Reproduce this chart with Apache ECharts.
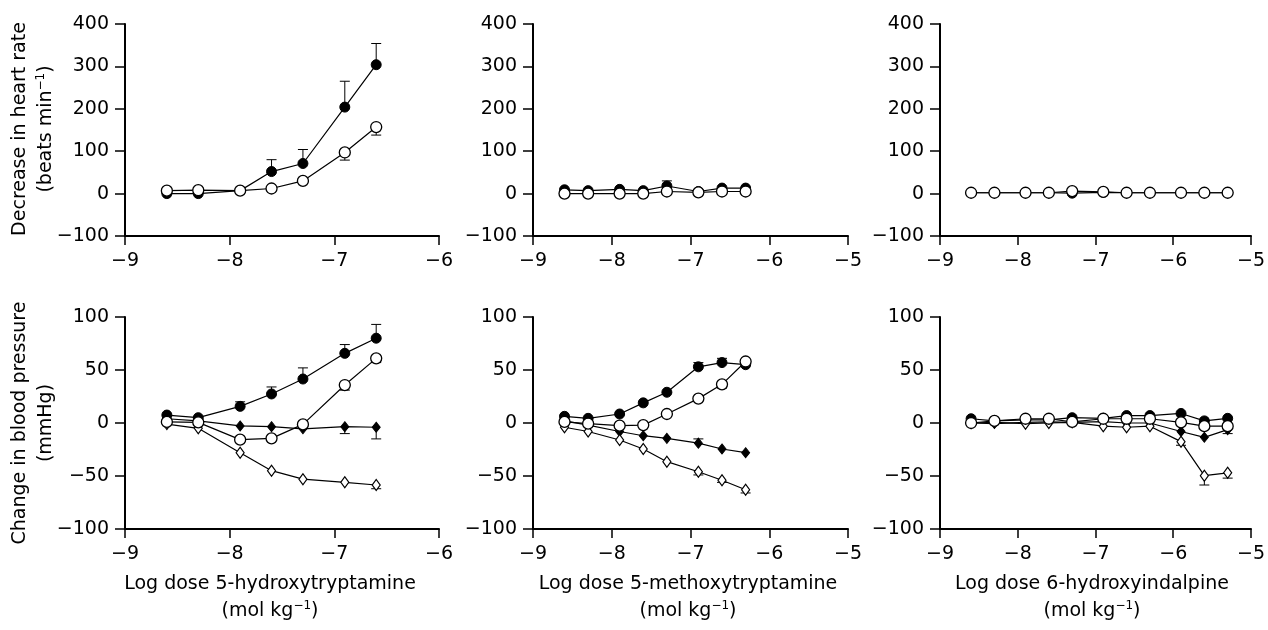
<!DOCTYPE html>
<html>
<head>
<meta charset="utf-8">
<script src="https://cdn.jsdelivr.net/npm/echarts@6/dist/echarts.min.js"></script>
<style>html,body{margin:0;padding:0;background:#fff}#c{width:1268px;height:630px}</style>
</head>
<body>
<div id="c"></div>
<script>
// Doses (log mol/kg)
const doses5HT = [-8.6, -8.3, -7.9, -7.6, -7.3, -6.9, -6.6];
const doses5MeOT = [-8.6, -8.3, -7.9, -7.6, -7.3, -6.9, -6.6, -6.3];
const doses6HI = [-8.6, -8.3, -7.9, -7.6, -7.3, -6.9, -6.6, -6.3, -5.9, -5.6, -5.3];

// Heart rate decrease (beats/min)
const hr5HT_filled = [0, 0, 7, 52, 71, 204, 304];
const hr5HT_filled_err = [null, null, null, 80, 104, 265, 354];
const hr5HT_open = [7, 8, 7, 12, 30, 97, 157];
const hr5HT_open_err = [null, null, null, null, null, 79, 138];

const hrMeOT_filled = [9, 7, 10, 7, 18, 5, 13, 13];
const hrMeOT_filled_err = [null, null, null, null, 30, null, null, null];
const hrMeOT_open = [0, 0, 0, 0, 5, 3, 5, 5];

const hr6HI_filled = [2, 2, 2, 2, 1, 3, 2, 2, 2, 2, 2];
const hr6HI_open = [2, 2, 2, 2, 6, 4, 2, 2, 2, 2, 2];

// Blood pressure change (mmHg)
const bp5HT_fc = [7.5, 5, 15.7, 27.4, 41.5, 65.7, 80];
const bp5HT_fc_err = [null, null, 20, 34, 52, 74, 93];
const bp5HT_oc = [1, 0.6, -15.7, -14.5, -1.3, 35.8, 61];
const bp5HT_oc_err = [null, null, null, null, null, 31, 57];
const bp5HT_fd = [4, 2, -2.8, -3.5, -5.5, -3.5, -4];
const bp5HT_fd_err = [null, null, null, null, null, -10, -15];
const bp5HT_od = [-1, -5, -28, -45, -53, -56, -58.5];
const bp5HT_od_err = [null, null, null, null, null, null, -62];

const bpMeOT_fc = [6.3, 4.4, 8.5, 19, 29, 53, 57, 55];
const bpMeOT_fc_err = [null, null, null, null, null, 57, 61, null];
const bpMeOT_oc = [1, -0.6, -2.5, -2, 8.5, 23, 36.5, 58];
const bpMeOT_oc_err = [null, null, null, null, null, null, 33, null];
const bpMeOT_fd = [2, -2, -8, -12, -14.5, -19, -24.5, -28];
const bpMeOT_fd_err = [null, null, null, null, null, -15, null, null];
const bpMeOT_od = [-4, -8, -16, -24.5, -36.5, -46, -54, -63];
const bpMeOT_od_err = [null, null, null, null, null, -49, -56, -66];

const bp6HI_fc = [4, 2, 3, 3, 5, 4.4, 7, 7, 9, 2, 4.4];
const bp6HI_oc = [0, 2, 4, 4, 1, 4, 4, 4, 0.6, -3, -3];
const bp6HI_oc_err = [null, null, null, null, null, null, null, null, null, null, -10];
const bp6HI_fd = [0, -0.5, 0.6, 1, 0.6, 1.3, 0, 0, -8, -13.5, -6.3];
const bp6HI_od = [0, 0.6, -0.6, 0, 0.6, -3, -4, -3, -17.6, -49.7, -47];
const bp6HI_od_err = [null, null, null, null, null, null, null, null, -21, -58.5, -52];

// Axis ticks
const hrTicks = {min: -100, max: 400, interval: 100};
const bpTicks = {min: -100, max: 100, interval: 50};
const xMax = [-6, -5, -5];

const FONT = 'DejaVu Sans';
const FS = 19;
const minus = v => (v < 0 ? '\u2212' + Math.abs(v) : String(v));

const gridPos = [
  {left: 125, top: 24, width: 314, height: 212},
  {left: 533, top: 24, width: 315, height: 212},
  {left: 940, top: 24, width: 315, height: 212},
  {left: 125, top: 317, width: 314, height: 212},
  {left: 533, top: 317, width: 315, height: 212},
  {left: 940, top: 317, width: 315, height: 212}
];

const axisLineStyle = {color: '#000', width: 2};
const xAxes = gridPos.map((g, i) => ({
  type: 'value', gridIndex: i, min: -9, max: xMax[i % 3], interval: 1,
  axisLine: {show: true, onZero: false, lineStyle: axisLineStyle},
  axisTick: {show: true, length: 9, lineStyle: {color: '#000', width: 1.5}},
  axisLabel: {color: '#000', fontFamily: FONT, fontSize: FS, margin: 16, formatter: minus},
  splitLine: {show: false}
}));
const yAxes = gridPos.map((g, i) => {
  const t = i < 3 ? hrTicks : bpTicks;
  return {
    type: 'value', gridIndex: i, min: t.min, max: t.max, interval: t.interval,
    axisLine: {show: true, onZero: false, lineStyle: axisLineStyle},
    axisTick: {show: true, length: 10, lineStyle: {color: '#000', width: 1.5}},
    axisLabel: {color: '#000', fontFamily: FONT, fontSize: FS, margin: 16, formatter: minus},
    splitLine: {show: false}
  };
});

const styles = {
  fc: {symbol: 'circle', symbolSize: 10, itemStyle: {color: '#000', borderColor: '#000', borderWidth: 1}},
  oc: {symbol: 'circle', symbolSize: 11, itemStyle: {color: '#fff', borderColor: '#000', borderWidth: 1.3}},
  fd: {symbol: 'diamond', symbolSize: [8, 10], itemStyle: {color: '#000', borderColor: '#000', borderWidth: 1}},
  od: {symbol: 'diamond', symbolSize: [8, 11], itemStyle: {color: '#fff', borderColor: '#000', borderWidth: 1.2}}
};
const zOrder = {fc: 3, fd: 4, od: 5, oc: 6};

const series = [];
function addLine(idx, xs, ys, kind, errs) {
  const s = styles[kind];
  series.push({
    type: 'line', xAxisIndex: idx, yAxisIndex: idx,
    data: xs.map((x, k) => [x, ys[k]]),
    symbol: s.symbol, symbolSize: s.symbolSize, itemStyle: s.itemStyle,
    lineStyle: {color: '#000', width: 1.2}, showAllSymbol: true,
    z: zOrder[kind], animation: false, silent: true
  });
  if (errs) {
    const d = [];
    xs.forEach((x, k) => { if (errs[k] !== null) d.push([x, ys[k], errs[k]]); });
    series.push({
      type: 'custom', xAxisIndex: idx, yAxisIndex: idx, data: d, z: 2, animation: false, silent: true,
      renderItem: function (params, api) {
        const p0 = api.coord([api.value(0), api.value(1)]);
        const p1 = api.coord([api.value(0), api.value(2)]);
        const st = {stroke: '#000', lineWidth: 1};
        return {type: 'group', children: [
          {type: 'line', shape: {x1: p0[0], y1: p0[1], x2: p1[0], y2: p1[1]}, style: st},
          {type: 'line', shape: {x1: p1[0] - 5, y1: p1[1], x2: p1[0] + 5, y2: p1[1]}, style: st}
        ]};
      }
    });
  }
}

addLine(0, doses5HT, hr5HT_filled, 'fc', hr5HT_filled_err);
addLine(0, doses5HT, hr5HT_open, 'oc', hr5HT_open_err);
addLine(1, doses5MeOT, hrMeOT_filled, 'fc', hrMeOT_filled_err);
addLine(1, doses5MeOT, hrMeOT_open, 'oc');
addLine(2, doses6HI, hr6HI_filled, 'fc');
addLine(2, doses6HI, hr6HI_open, 'oc');

addLine(3, doses5HT, bp5HT_fc, 'fc', bp5HT_fc_err);
addLine(3, doses5HT, bp5HT_fd, 'fd', bp5HT_fd_err);
addLine(3, doses5HT, bp5HT_od, 'od', bp5HT_od_err);
addLine(3, doses5HT, bp5HT_oc, 'oc', bp5HT_oc_err);

addLine(4, doses5MeOT, bpMeOT_fc, 'fc', bpMeOT_fc_err);
addLine(4, doses5MeOT, bpMeOT_fd, 'fd', bpMeOT_fd_err);
addLine(4, doses5MeOT, bpMeOT_od, 'od', bpMeOT_od_err);
addLine(4, doses5MeOT, bpMeOT_oc, 'oc', bpMeOT_oc_err);

addLine(5, doses6HI, bp6HI_fc, 'fc');
addLine(5, doses6HI, bp6HI_fd, 'fd');
addLine(5, doses6HI, bp6HI_od, 'od', bp6HI_od_err);
addLine(5, doses6HI, bp6HI_oc, 'oc', bp6HI_oc_err);

const titleFont = {fill: '#000', fontFamily: FONT, fontSize: FS};
const rich = {
  a: {fontFamily: FONT, fontSize: FS, fill: '#000', color: '#000'},
  s: {fontFamily: FONT, fontSize: 12, fill: '#000', color: '#000', padding: [0, 0, 10, 0]}
};
const xTitles = [
  ['Log dose 5-hydroxytryptamine', 270],
  ['Log dose 5-methoxytryptamine', 688],
  ['Log dose 6-hydroxyindalpine', 1092]
];
const graphic = [];
xTitles.forEach(([t, cx]) => {
  graphic.push({type: 'text', x: cx, y: 584, style: Object.assign({text: t, align: 'center', verticalAlign: 'middle'}, titleFont)});
  graphic.push({type: 'text', x: cx, y: 611, style: {text: '{a|(mol kg}{s|\u22121}{a|)}', rich: rich, align: 'center', verticalAlign: 'middle'}});
});
graphic.push({type: 'text', x: 20, y: 129, rotation: Math.PI / 2, style: Object.assign({text: 'Decrease in heart rate', align: 'center', verticalAlign: 'middle'}, titleFont)});
graphic.push({type: 'text', x: 46, y: 129, rotation: Math.PI / 2, style: {text: '{a|(beats min}{s|\u22121}{a|)}', rich: rich, align: 'center', verticalAlign: 'middle'}});
graphic.push({type: 'text', x: 20, y: 423, rotation: Math.PI / 2, style: Object.assign({text: 'Change in blood pressure', align: 'center', verticalAlign: 'middle'}, titleFont)});
graphic.push({type: 'text', x: 46, y: 423, rotation: Math.PI / 2, style: Object.assign({text: '(mmHg)', align: 'center', verticalAlign: 'middle'}, titleFont)});

const chart = echarts.init(document.getElementById('c'), null, {renderer: 'canvas'});
chart.setOption({
  backgroundColor: '#fff',
  animation: false,
  grid: gridPos.map(g => Object.assign({containLabel: false}, g)),
  xAxis: xAxes,
  yAxis: yAxes,
  series: series,
  graphic: graphic
});
</script>
</body>
</html>
